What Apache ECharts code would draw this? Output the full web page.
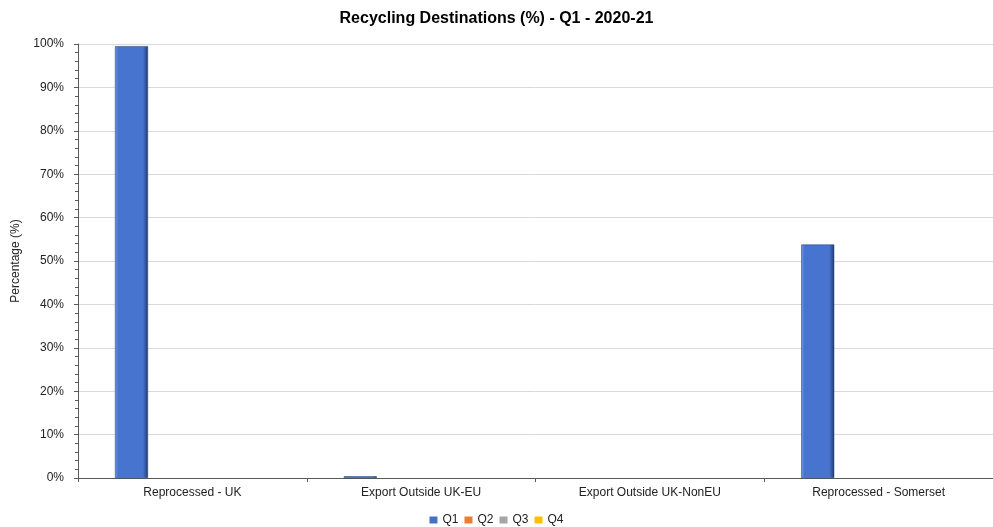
<!DOCTYPE html>
<html><head><meta charset="utf-8">
<script src="https://cdn.jsdelivr.net/npm/echarts@6/dist/echarts.min.js"></script>
<style>html,body{margin:0;padding:0;background:#fff}#c{width:993px;height:527px}</style>
</head><body><div id="c"></div>
<script>
const categories = ['Reprocessed - UK', 'Export Outside UK-EU', 'Export Outside UK-NonEU', 'Reprocessed - Somerset'];
const q1 = [99.5, 0.4, null, 53.8];
const q2 = [null, null, null, null];
const q3 = [null, null, null, null];
const q4 = [null, null, null, null];
const yTicks = [0, 10, 20, 30, 40, 50, 60, 70, 80, 90, 100];

function bevel(base, light, dark) {
  return new echarts.graphic.LinearGradient(0, 0, 1, 0, [
    {offset: 0, color: light}, {offset: 0.1, color: base},
    {offset: 0.85, color: base}, {offset: 1, color: dark}
  ]);
}
const chart = echarts.init(document.getElementById('c'), null, {renderer: 'canvas'});
const font = 'Liberation Sans, Arial, sans-serif';
function mk(name, data, base, light, dark) {
  return {
    name, type: 'bar', data, barWidth: 33, barGap: '23%',
    itemStyle: {color: bevel(base, light, dark), borderColor: dark, borderWidth: 0.5}
  };
}
chart.setOption({
  animation: false,
  title: {text: 'Recycling Destinations (%) - Q1 - 2020-21', left: 'center', top: 6,
    textStyle: {fontFamily: font, fontSize: 16, fontWeight: 'bold', color: '#000'}},
  legend: {top: 509, left: 'center', itemWidth: 8, itemHeight: 7, itemGap: 6,
    textStyle: {fontFamily: font, fontSize: 12, color: '#222'},
    data: [{name:'Q1', icon:'rect', itemStyle:{color:'#4472C4', borderWidth:0}},
           {name:'Q2', icon:'rect', itemStyle:{color:'#ED7D31', borderWidth:0}},
           {name:'Q3', icon:'rect', itemStyle:{color:'#A5A5A5', borderWidth:0}},
           {name:'Q4', icon:'rect', itemStyle:{color:'#FFC000', borderWidth:0}}]},
  grid: {left: 78, right: 0, top: 44, bottom: 49, outerBoundsMode: 'none', containLabel: false},
  xAxis: {type: 'category', data: categories, boundaryGap: true,
    axisLine: {lineStyle: {color: '#595959', width: 1}},
    axisTick: {show: true, length: 4, lineStyle: {color: '#595959'}},
    axisLabel: {fontFamily: font, fontSize: 12, color: '#222', margin: 9}},
  yAxis: {type: 'value', min: 0, max: 100, interval: 10,
    name: 'Percentage (%)', nameLocation: 'middle', nameGap: 56, nameRotate: 90,
    nameTextStyle: {fontFamily: font, fontSize: 12, color: '#222'},
    axisLine: {show: true, lineStyle: {color: '#595959'}},
    axisTick: {show: true, length: 4, lineStyle: {color: '#595959'}},
    minorTick: {show: true, splitNumber: 5, length: 3, lineStyle: {color: '#595959'}},
    axisLabel: {fontFamily: font, fontSize: 12, color: '#222', margin: 14,
      formatter: v => yTicks.includes(v) ? v + '%' : ''},
    splitLine: {show: true, lineStyle: {color: '#d9d9d9'}}},
  series: [
    mk('Q1', q1, '#4774CE', '#6d96e6', '#1f3a70'),
    mk('Q2', q2, '#ED7D31', '#f5a06a', '#9c4a13'),
    mk('Q3', q3, '#A5A5A5', '#c8c8c8', '#666'),
    mk('Q4', q4, '#FFC000', '#ffd85a', '#a07800')
  ]
});
</script></body></html>
